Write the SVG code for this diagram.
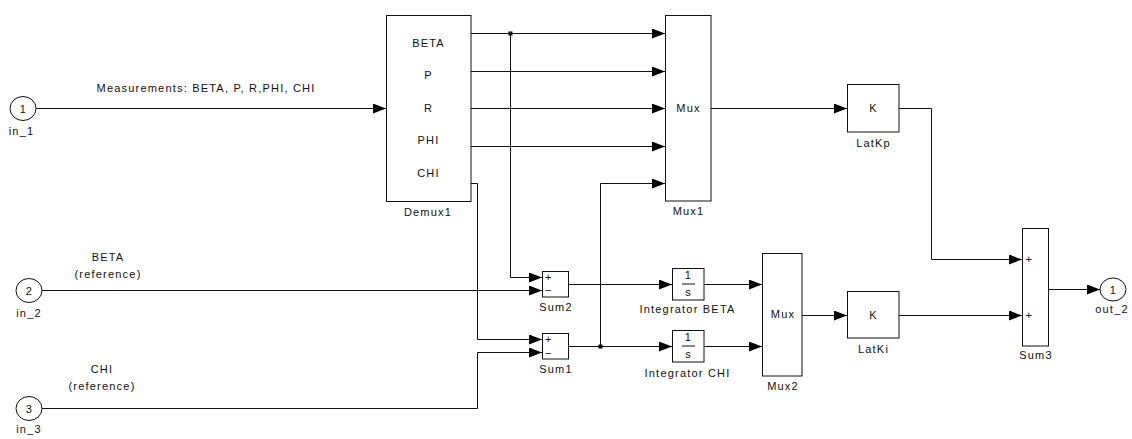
<svg xmlns="http://www.w3.org/2000/svg" width="1132" height="439" viewBox="0 0 1132 439">
<style>
text{font-family:"Liberation Sans",Arial,sans-serif;font-size:11px;fill:#111;letter-spacing:1.2px;text-anchor:middle}
.blk{fill:#fff;stroke:#111;stroke-width:1}
.port{fill:#fff;stroke:#111;stroke-width:1}
.w{fill:none;stroke:#111;stroke-width:1}
.a{marker-end:url(#arr)}
.sg{text-anchor:start;letter-spacing:0}
</style>
<defs>
<marker id="arr" markerUnits="userSpaceOnUse" markerWidth="14" markerHeight="11" refX="13" refY="5" orient="auto">
<path d="M0,0 L13,5 L0,10 z" fill="#000"/>
</marker>
</defs>
<rect width="1132" height="439" fill="#fff"/>

<g id="connectors">
<path class="w a" d="M36,108.5 H386"/>
<path class="w a" d="M471,33.5 H665"/>
<path class="w a" d="M510.5,33.5 V277.5 H542"/>
<path class="w a" d="M471,71.5 H665"/>
<path class="w a" d="M471,108.5 H665"/>
<path class="w a" d="M471,146.5 H665"/>
<path class="w a" d="M471,183.5 H477.5 V339.5 H542"/>
<path class="w a" d="M42,290.5 H542"/>
<path class="w a" d="M42,408.5 H477.5 V352.5 H542"/>
<path class="w a" d="M568,284.5 H672"/>
<path class="w a" d="M568,346.5 H672"/>
<path class="w a" d="M600.5,346.5 V183.5 H665"/>
<path class="w a" d="M704,284.5 H762"/>
<path class="w a" d="M704,346.5 H762"/>
<path class="w a" d="M802,315.5 H847"/>
<path class="w a" d="M899,315.5 H1022"/>
<path class="w a" d="M711,108.5 H847"/>
<path class="w a" d="M899,108.5 H931.5 V259.5 H1022"/>
<path class="w a" d="M1049,289.5 H1100"/>
<rect x="508.5" y="31.5" width="4" height="4" fill="#000"/>
<rect x="598.5" y="344.5" width="4" height="4" fill="#000"/>
<text x="206" y="92">Measurements: BETA, P, R,PHI, CHI</text>
<text x="108" y="261">BETA</text>
<text x="108" y="278">(reference)</text>
<text x="102" y="373">CHI</text>
<text x="102" y="390">(reference)</text>
</g>

<g id="in_1">
<ellipse class="port" cx="23" cy="108.5" rx="13" ry="12"/>
<text x="23.5" y="112.5">1</text>
<text x="21.5" y="135">in_1</text>
</g>
<g id="in_2">
<ellipse class="port" cx="29" cy="290.5" rx="13" ry="12"/>
<text x="29.5" y="294.5">2</text>
<text x="29" y="317">in_2</text>
</g>
<g id="in_3">
<ellipse class="port" cx="29" cy="408.5" rx="13" ry="12"/>
<text x="29.5" y="412.5">3</text>
<text x="29" y="433">in_3</text>
</g>

<g id="Demux1">
<rect class="blk" x="386.5" y="15.5" width="84.5" height="186"/>
<text x="428.5" y="47">BETA</text>
<text x="428.5" y="79">P</text>
<text x="428.5" y="112">R</text>
<text x="428.5" y="144">PHI</text>
<text x="428.5" y="177">CHI</text>
<text x="428" y="216">Demux1</text>
</g>

<g id="Mux1">
<rect class="blk" x="665.5" y="15.5" width="45.5" height="185.5"/>
<text x="688.5" y="112">Mux</text>
<text x="688.5" y="215">Mux1</text>
</g>

<g id="LatKp">
<rect class="blk" x="847.5" y="84.5" width="51.5" height="47.5"/>
<text x="873.5" y="112">K</text>
<text x="873.5" y="147">LatKp</text>
</g>

<g id="Sum2">
<rect class="blk" x="542.5" y="271.5" width="26" height="25.5"/>
<text class="sg" x="545" y="281">+</text>
<text class="sg" x="545" y="294">−</text>
<text x="556" y="311">Sum2</text>
</g>

<g id="Sum1">
<rect class="blk" x="542.5" y="333.5" width="26" height="25.5"/>
<text class="sg" x="545" y="343">+</text>
<text class="sg" x="545" y="357">−</text>
<text x="556" y="373">Sum1</text>
</g>

<g id="IntegratorBETA">
<rect class="blk" x="672.5" y="268.5" width="31.5" height="31.5"/>
<text x="688.5" y="279">1</text>
<path class="w" d="M682,284 H695"/>
<text x="688.5" y="296">s</text>
<text x="687.5" y="313">Integrator BETA</text>
</g>

<g id="IntegratorCHI">
<rect class="blk" x="672.5" y="330.5" width="31.5" height="31.5"/>
<text x="688.5" y="341">1</text>
<path class="w" d="M682,346 H695"/>
<text x="688.5" y="358">s</text>
<text x="687.5" y="377">Integrator CHI</text>
</g>

<g id="Mux2">
<rect class="blk" x="762.5" y="253.5" width="39.5" height="122.5"/>
<text x="783" y="318">Mux</text>
<text x="783" y="390">Mux2</text>
</g>

<g id="LatKi">
<rect class="blk" x="847.5" y="291.5" width="51.5" height="46.5"/>
<text x="873.5" y="319">K</text>
<text x="873.5" y="353">LatKi</text>
</g>

<g id="Sum3">
<rect class="blk" x="1022.5" y="228.5" width="26" height="117.5"/>
<text class="sg" x="1025.5" y="263">+</text>
<text class="sg" x="1025.5" y="319">+</text>
<text x="1036" y="359">Sum3</text>
</g>

<g id="out_2">
<ellipse class="port" cx="1113" cy="289.5" rx="13" ry="11.5"/>
<text x="1113.5" y="293.5">1</text>
<text x="1112" y="313">out_2</text>
</g>
</svg>
